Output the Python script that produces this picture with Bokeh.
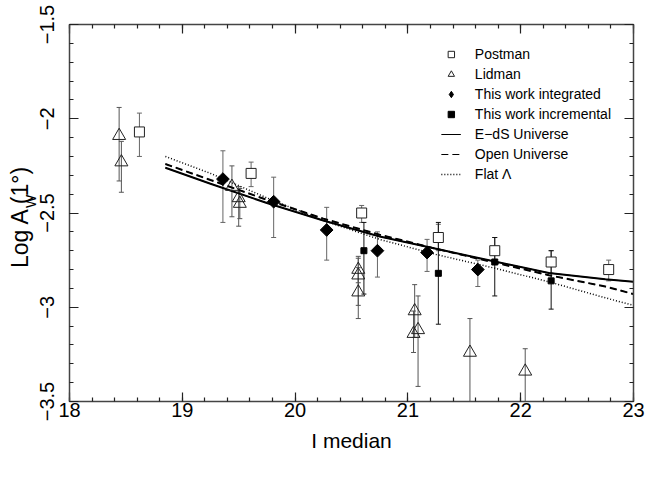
import numpy as np
from bokeh.plotting import figure
from bokeh.models import (ColumnDataSource, Whisker, TeeHead, LinearAxis,
                          SingleIntervalTicker, Range1d, Legend, LegendItem, Label,
                          CustomJSTickFormatter)
from bokeh.embed import file_html
from bokeh.resources import INLINE

# --- Postman et al. angular correlation amplitudes ---
postman_x = [18.62, 19.61, 20.59, 21.27, 21.77, 22.27, 22.78]
postman_y = [-2.07, -2.29, -2.50, -2.63, -2.70, -2.76, -2.80]
postman_lo = [-2.20, -2.36, -2.55, -2.70, -2.77, -2.82, -2.86]
postman_hi = [-1.97, -2.23, -2.46, -2.56, -2.63, -2.70, -2.75]

# --- Lidman & Peterson ---
lidman_x = [18.44, 18.46, 19.44, 19.50, 19.51, 20.56, 20.56, 20.56,
            21.06, 21.09, 21.05, 21.55, 22.04]
lidman_y = [-2.09, -2.23, -2.36, -2.42, -2.45, -2.80, -2.83, -2.92,
            -3.02, -3.12, -3.14, -3.24, -3.34]
lidman_lo = [-2.33, -2.39, -2.52, -2.57, -2.53, -2.87, -2.99, -3.06,
             -3.16, -3.42, -3.24, -3.50, -3.50]
lidman_hi = [-1.94, -2.12, -2.25, -2.36, -2.37, -2.73, -2.74, -2.79,
             -2.88, -2.94, -3.02, -3.06, -3.22]

# --- This work: integrated counts ---
int_x = [19.36, 19.81, 20.28, 20.73, 21.17, 21.62]
int_y = [-2.32, -2.44, -2.59, -2.70, -2.71, -2.80]
int_lo = [-2.55, -2.63, -2.75, -2.84, -2.81, -2.89]
int_hi = [-2.17, -2.31, -2.47, -2.60, -2.64, -2.75]

# --- This work: incremental bins ---
inc_x = [20.61, 21.27, 21.77, 22.27]
inc_y = [-2.70, -2.82, -2.76, -2.86]
inc_lo = [-2.93, -3.09, -2.94, -3.01]
inc_hi = [-2.55, -2.55, -2.63, -2.70]

# --- Model predictions ---
model_x = [18.85, 19.25, 19.75, 20.25, 20.75, 21.25, 21.75, 22.25, 22.75, 23.0]
eds_y = [-2.26, -2.345, -2.447, -2.54, -2.625, -2.69, -2.755, -2.818, -2.852, -2.865]
open_y = [-2.24, -2.325, -2.43, -2.53, -2.615, -2.69, -2.76, -2.83, -2.89, -2.93]
flat_y = [-2.20, -2.29, -2.42, -2.54, -2.64, -2.72, -2.79, -2.865, -2.95, -2.99]

y_ticks = [-1.5, -2.0, -2.5, -3.0, -3.5]
y_tick_labels = ["\u22121.5", "\u22122", "\u22122.5", "\u22123", "\u22123.5"]

FONT = "Liberation Sans"
AXIS_COLOR = "#444444"
BAR_COLOR = "#666666"
OPEN_DASH = "7 4"

p = figure(width=647, height=477, x_range=Range1d(18, 23), y_range=Range1d(-3.5, -1.5),
           output_backend="svg", toolbar_location=None,
           min_border_left=69, min_border_right=14, min_border_top=24, min_border_bottom=76)
p.xgrid.visible = False
p.ygrid.visible = False
p.outline_line_color = None
p.background_fill_color = "white"
p.border_fill_color = "white"


def style_axis(ax, interval, show_labels):
    ax.ticker = SingleIntervalTicker(interval=interval, num_minor_ticks=5)
    ax.axis_line_color = AXIS_COLOR
    ax.axis_line_width = 1.5
    ax.major_tick_in = 9
    ax.major_tick_out = 0
    ax.minor_tick_in = 4
    ax.minor_tick_out = 0
    ax.major_tick_line_color = "#222222"
    ax.minor_tick_line_color = "#222222"
    ax.major_tick_line_width = 1.2
    ax.minor_tick_line_width = 1.2
    if show_labels:
        ax.major_label_text_font = FONT
        ax.major_label_text_font_size = "20px"
        ax.major_label_text_color = "black"
    else:
        ax.formatter = CustomJSTickFormatter(code="return ''")
        ax.major_label_text_font_size = "1px"
        ax.major_label_standoff = 0


xax = p.xaxis[0]
style_axis(xax, 1, True)
xax.major_label_standoff = 1
xax.axis_label = "I median"
xax.axis_label_text_font = FONT
xax.axis_label_text_font_size = "21px"
xax.axis_label_text_font_style = "normal"
xax.axis_label_text_color = "black"
xax.axis_label_standoff = 9

yax = p.yaxis[0]
style_axis(yax, 0.5, True)
yax.major_label_orientation = "vertical"
yax.major_label_standoff = 16
yax.major_label_overrides = {float(t): s for t, s in zip(y_ticks, y_tick_labels)}
# the gap between "A" and "(" leaves room for the subscript W
yax.axis_label = "Log A  (1\u00b0)"
yax.axis_label_text_font = FONT
yax.axis_label_text_font_size = "23px"
yax.axis_label_text_font_style = "normal"
yax.axis_label_text_color = "black"
yax.axis_label_standoff = 4

top_ax = LinearAxis()
style_axis(top_ax, 1, False)
p.add_layout(top_ax, "above")
right_ax = LinearAxis()
style_axis(right_ax, 0.5, False)
p.add_layout(right_ax, "right")

# subscript of the y-axis title; kept in a side panel so it is not clipped
p.add_layout(Label(x=17.655, y=-2.4735, text="W", angle=np.pi / 2,
                   text_font=FONT, text_font_size="14px", text_color="black",
                   text_align="left", text_baseline="alphabetic"), "above")


def error_bars(xs, lo, hi, color):
    src = ColumnDataSource(dict(x=xs, lo=lo, hi=hi))
    w = Whisker(base="x", lower="lo", upper="hi", source=src,
                line_color=color, line_width=1,
                upper_head=TeeHead(size=5, line_color=color, line_width=1),
                lower_head=TeeHead(size=5, line_color=color, line_width=1))
    p.add_layout(w)


error_bars(postman_x, postman_lo, postman_hi, BAR_COLOR)
error_bars(lidman_x, lidman_lo, lidman_hi, "#555555")
error_bars(int_x, int_lo, int_hi, BAR_COLOR)
error_bars(inc_x, inc_lo, inc_hi, "#111111")

# thin key lines for the legend, drawn under the heavier model curves
k_eds = p.line(model_x, eds_y, line_color="black", line_width=1)
k_open = p.line(model_x, open_y, line_color="black", line_width=1, line_dash=OPEN_DASH)
r_eds = p.line(model_x, eds_y, line_color="black", line_width=2)
r_open = p.line(model_x, open_y, line_color="black", line_width=2, line_dash=OPEN_DASH)
r_flat = p.line(model_x, flat_y, line_color="black", line_width=1.5, line_dash="1 2")

r_post = p.scatter(postman_x, postman_y, marker="square", size=10,
                   fill_color="white", line_color="#222222", line_width=1)
r_lid = p.scatter(lidman_x, lidman_y, marker="triangle", size=13,
                  fill_color=None, line_color="#222222", line_width=1)
# diamond key symbol; the same points, hidden under the rotated squares below
r_int_key = p.scatter(int_x, int_y, marker="diamond", size=9,
                      fill_color="black", line_color="black")
r_int = p.scatter(int_x, int_y, marker="square", size=9, angle=np.pi / 4,
                  fill_color="black", line_color="black")
r_inc = p.scatter(inc_x, inc_y, marker="square", size=6,
                  fill_color="black", line_color="black")

legend = Legend(items=[
    LegendItem(label="Postman", renderers=[r_post]),
    LegendItem(label="Lidman", renderers=[r_lid]),
    LegendItem(label="This work integrated", renderers=[r_int_key]),
    LegendItem(label="This work incremental", renderers=[r_inc]),
    LegendItem(label="E\u2212dS Universe", renderers=[k_eds]),
    LegendItem(label="Open Universe", renderers=[k_open]),
    LegendItem(label="Flat \u039b", renderers=[r_flat]),
], location="top_right", margin=22, padding=0, spacing=4,
    glyph_width=20, glyph_height=16, label_height=16, label_standoff=14,
    label_text_font=FONT, label_text_font_size="14px", label_text_color="black",
    border_line_color=None, background_fill_alpha=0)
p.add_layout(legend)

open("out.html", "w").write(file_html(p, INLINE))
